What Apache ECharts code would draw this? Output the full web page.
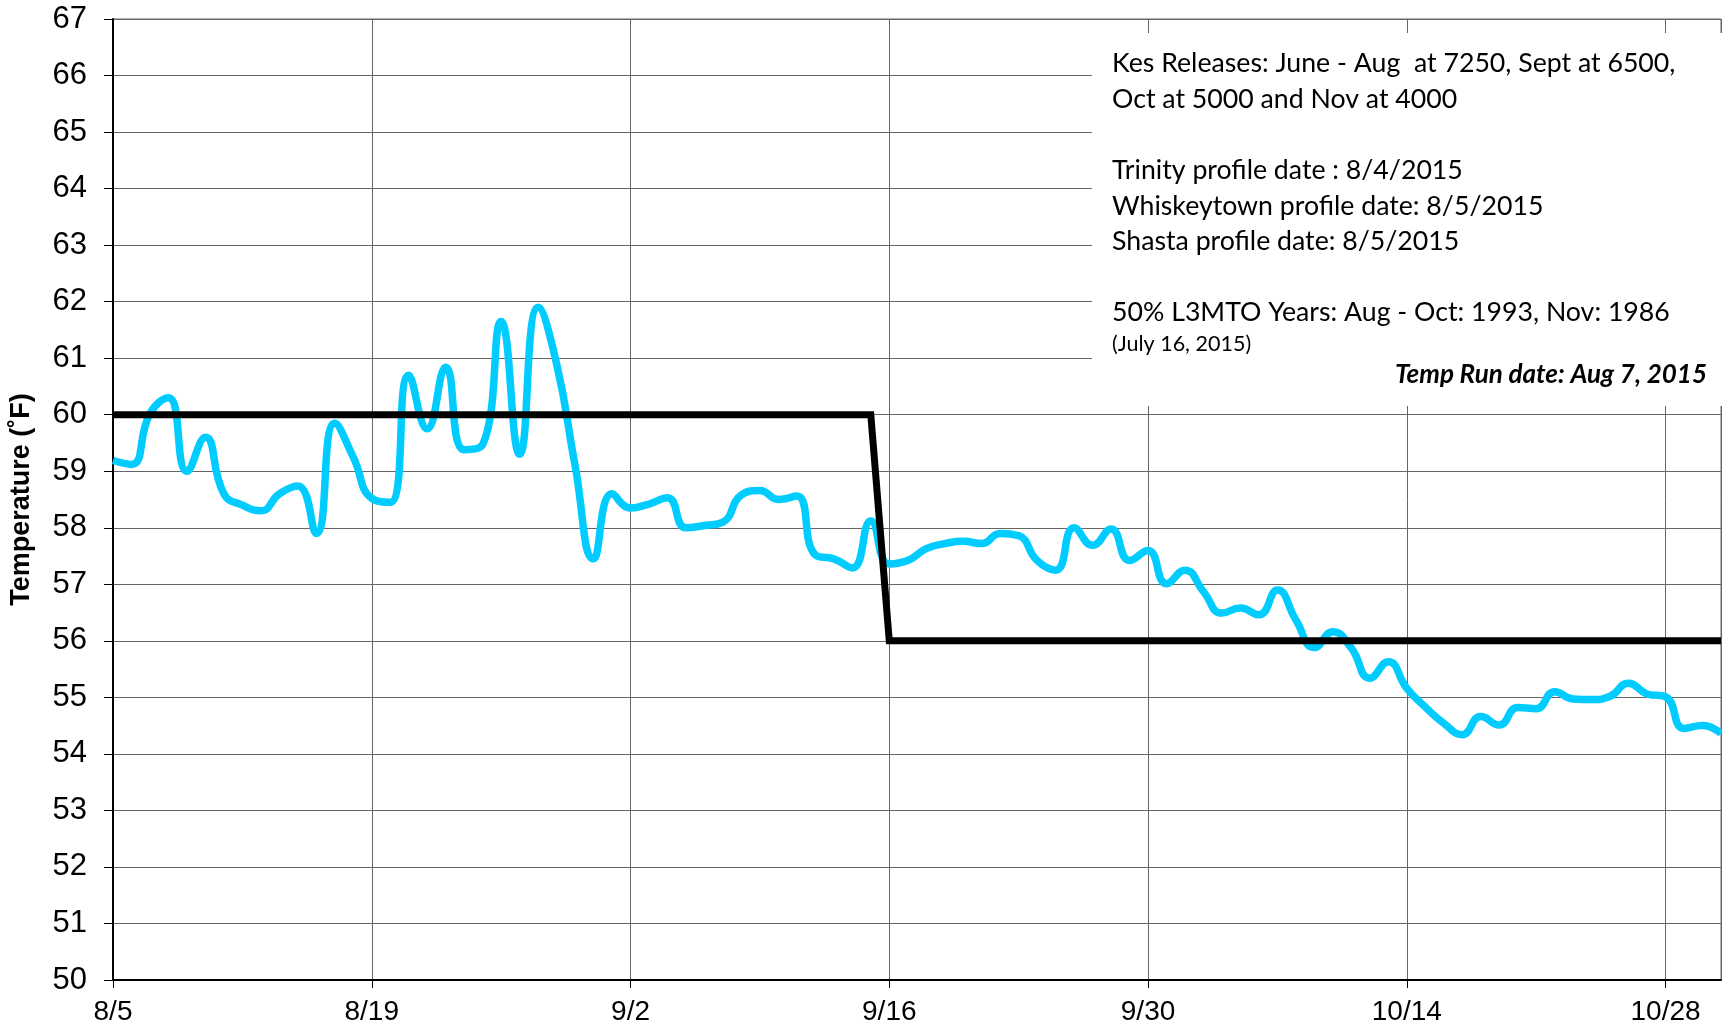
<!DOCTYPE html>
<html>
<head>
<meta charset="utf-8">
<script src="https://cdn.jsdelivr.net/npm/echarts@6/dist/echarts.min.js"></script>
<style>
  html, body { margin: 0; padding: 0; background: #fff; }
  #chart { width: 1722px; height: 1029px; }
</style>
</head>
<body>
<div id="chart"></div>
<script>
// day 0 = 8/5/2015, one value per day through 10/31
const tickLabels = ['8/5', '8/19', '9/2', '9/16', '9/30', '10/14', '10/28']
const tickStep = 14

const temps = [
  59.19, 59.12, 60.02, 60.3, 59.0, 59.6, 58.6, 58.4, 58.3, 58.6,
  58.74, 57.9, 59.85, 59.25, 58.52, 58.45, 60.7, 59.75, 60.84, 59.38,
  59.47, 61.65, 59.3, 61.9, 60.9, 59.1, 57.45, 58.6, 58.35, 58.42,
  58.53, 58.0, 58.04, 58.1, 58.58, 58.66, 58.5, 58.56, 57.52, 57.45,
  57.29, 58.12, 57.36, 57.42, 57.63, 57.72, 57.76, 57.72, 57.9, 57.86,
  57.42, 57.25, 58.0, 57.69, 57.98, 57.42, 57.6, 57.01, 57.25, 56.87,
  56.49, 56.58, 56.46, 56.9, 56.37, 55.88, 56.16, 55.87, 55.34, 55.63,
  55.16, 54.83, 54.54, 54.34, 54.66, 54.51, 54.82, 54.8, 55.1, 54.97,
  54.96, 55.02, 55.25, 55.06, 55.01, 54.45, 54.5, 54.36
]

// temperature target: 60 through 9/15, 56 from 9/16
const targetDays = [0, 41, 42, 87]
const targetTemps = [60, 60, 56, 56]

const notes = [
  'Kes Releases: June - Aug  at 7250, Sept at 6500,',
  'Oct at 5000 and Nov at 4000',
  '',
  'Trinity profile date : 8/4/2015',
  'Whiskeytown profile date: 8/5/2015',
  'Shasta profile date: 8/5/2015',
  '',
  '50% L3MTO Years: Aug - Oct: 1993, Nov: 1986'
]
const noteSmall = '(July 16, 2015)'
const runDate = 'Temp Run date: Aug 7, 2015'

const chart = echarts.init(document.getElementById('chart'))

const gridColor = '#666'
const axisFont = '"Liberation Sans", Arial, sans-serif'
const noteFont = 'Lato, "Open Sans", sans-serif'

const noteTexts = notes.map((t, i) => ({
  type: 'text',
  left: 1112,
  top: 50 + i * 35.6,
  z: 20,
  style: { text: t, fill: '#000', font: '26.7px ' + noteFont }
}))

chart.setOption({
  animation: false,
  grid: {
    left: 111,
    right: 1,
    top: 19,
    bottom: 49,
    show: true,
    borderColor: gridColor,
    borderWidth: 1
  },
  xAxis: {
    type: 'value',
    min: 0,
    max: 87,
    interval: tickStep,
    axisLine: { show: true, onZero: false, lineStyle: { color: '#000', width: 2 } },
    axisTick: { show: true, length: 8, lineStyle: { color: '#000', width: 1 } },
    axisLabel: {
      color: '#000',
      fontSize: 28,
      fontFamily: axisFont,
      margin: 18,
      showMaxLabel: false,
      formatter: v => (v % tickStep === 0 ? tickLabels[v / tickStep] || '' : '')
    },
    splitLine: { show: true, lineStyle: { color: gridColor, width: 1 } }
  },
  yAxis: {
    type: 'value',
    min: 50,
    max: 67,
    interval: 1,
    name: 'Temperature (˚F)',
    nameLocation: 'middle',
    nameGap: 78,
    nameTextStyle: {
      color: '#000',
      fontSize: 27,
      fontWeight: 'bold',
      fontFamily: axisFont
    },
    axisLine: { show: true, lineStyle: { color: '#000', width: 2 } },
    axisTick: { show: true, length: 9, lineStyle: { color: '#000', width: 1 } },
    axisLabel: {
      color: '#000',
      fontSize: 31,
      fontFamily: axisFont,
      margin: 26
    },
    splitLine: { show: true, lineStyle: { color: gridColor, width: 1 } }
  },
  series: [
    {
      name: 'Forecast',
      type: 'line',
      data: temps.map((v, i) => [i, v]),
      smooth: 0.5,
      showSymbol: false,
      lineStyle: { color: '#00CCFF', width: 7.5 },
      z: 3
    },
    {
      name: 'Target',
      type: 'line',
      data: targetDays.map((d, i) => [d, targetTemps[i]]),
      showSymbol: false,
      lineStyle: { color: '#000', width: 7, join: 'miter' },
      z: 4
    }
  ],
  graphic: [
    {
      type: 'rect',
      z: 10,
      shape: { x: 1092, y: 33, width: 640, height: 373 },
      style: { fill: '#fff' }
    },
    ...noteTexts,
    {
      type: 'text',
      left: 1112,
      top: 333,
      z: 20,
      style: { text: noteSmall, fill: '#000', font: '21.5px ' + noteFont }
    },
    {
      type: 'text',
      right: 15,
      top: 362,
      z: 20,
      style: { text: runDate, fill: '#000', font: 'italic bold 26px ' + noteFont }
    }
  ]
})
</script>
</body>
</html>
